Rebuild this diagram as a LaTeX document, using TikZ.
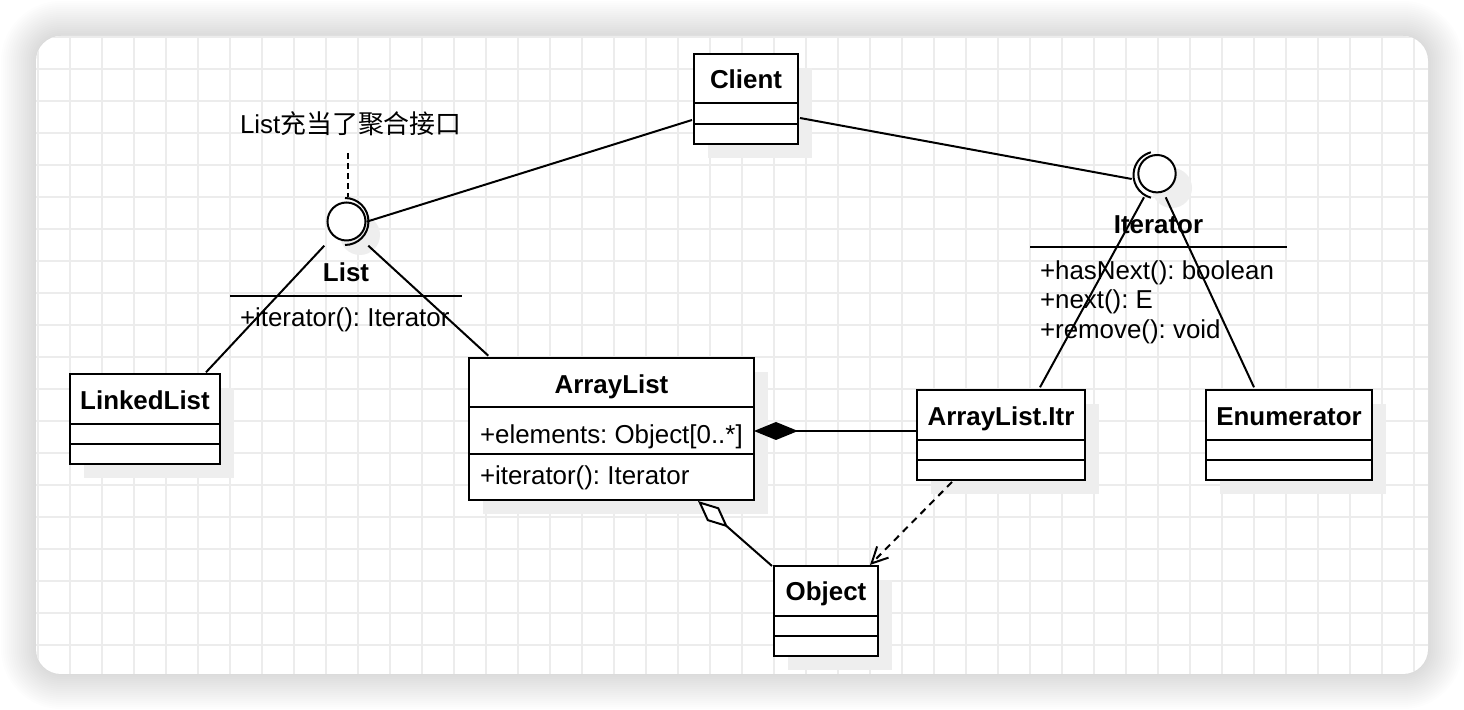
\documentclass[tikz,border=0pt]{standalone}
\usepackage{fontspec}
\setmainfont{Liberation Sans}
\newfontfamily\cjk{Noto Sans CJK SC}
\usetikzlibrary{arrows.meta,fit}
\definecolor{gridc}{RGB}{236,236,236}
\definecolor{shadc}{RGB}{238,238,238}
\frenchspacing
\newcommand\ubox[5]{%
  \fill[shadc] (#2+14,#3+14) rectangle (#4+14,#5+14);
  \node[box, fit={(#2,#3) (#4,#5)}] (#1) {};}
\begin{document}
\begin{tikzpicture}[x=0.5pt,y=-0.5pt, line width=1pt,
  every node/.style={font=\fontsize{12.95}{15.5}\selectfont\frenchspacing, inner sep=0pt, outer sep=0pt},
  box/.style={draw, fill=white, inner sep=0pt, outer sep=0pt, line width=1pt},
  lbl/.style={anchor=base, yshift=-0.75pt, font=\fontsize{12.95}{15.5}\selectfont\bfseries},
  txt/.style={anchor=base west, yshift=-0.75pt},
  conn/.style={line width=1pt},
  ifc/.style={circle, draw, fill=white, line width=1pt, inner sep=0pt, outer sep=0pt},
  dep/.style={conn, dash pattern=on 3.5pt off 2.8pt, -{Straight Barb[length=8pt,width=8pt]}},
  comp/.style={conn, -{Diamond[length=22pt,width=9pt]}},
  aggr/.style={conn, -{Diamond[open,fill=white,length=20pt,width=9pt]}},
  notelink/.style={conn, dash pattern=on 3pt off 2pt}]
\useasboundingbox (0,0) rectangle (1464,710);
\fill[white] (0,0) rectangle (1464,710);
% card shadow
\foreach \r in {1,3,...,35} {
  \pgfmathsetmacro\rc{(25+\r)*0.5}
  \fill[black, opacity=0.007, rounded corners=\rc pt] (36-\r,36-\r) rectangle (1428+\r,674+\r);
}
\fill[white, rounded corners=12.5pt] (36,36) rectangle (1428,674);
\begin{scope}
  \clip[rounded corners=12.5pt] (36,36) rectangle (1428,674);
  \foreach \x in {38,70,...,1426} \draw[gridc, line width=0.75pt] (\x,36) -- (\x,674);
  \foreach \y in {37,69,...,673} \draw[gridc, line width=0.75pt] (36,\y) -- (1428,\y);
\end{scope}

% ---- Client
\ubox{client}{694}{54}{798}{144}
\draw (694,103) -- (798,103);
\draw (694,124) -- (798,124);
\node[lbl] (clientT) at (746,87) {Client};

% ---- LinkedList
\ubox{linked}{70}{374}{220}{464}
\draw (70,424) -- (220,424);
\draw (70,444) -- (220,444);
\node[lbl] (linkedT) at (145,408) {LinkedList};

% ---- ArrayList
\ubox{alist}{469}{358}{754}{500}
\draw (469,407.5) -- (754,407.5);
\draw (469,454) -- (754,454);
\node[lbl] (alistT) at (611.5,392) {ArrayList};
\node[txt] (alistA) at (480,442) {+elements: Object[0..*]};
\node[txt] (alistM) at (480,483.5) {+iterator(): Iterator};

% ---- ArrayList.Itr
\ubox{itr}{917}{390}{1085}{480}
\draw (917,440) -- (1085,440);
\draw (917,460) -- (1085,460);
\node[lbl] (itrT) at (1001,424) {ArrayList.Itr};

% ---- Enumerator
\ubox{enum}{1206}{390}{1372}{480}
\draw (1206,440) -- (1372,440);
\draw (1206,460) -- (1372,460);
\node[lbl] (enumT) at (1289,424) {Enumerator};

% ---- Object
\ubox{obj}{774}{566}{878}{656}
\draw (774,616) -- (878,616);
\draw (774,636) -- (878,636);
\node[lbl] (objT) at (826,599) {Object};

% ---- List interface
\fill[shadc] (360,235) circle (20);
\node[ifc, minimum size=19pt] (listI) at (346.5,221.5) {};
\draw ([shift={(-90:23.5)}]345,221.5) arc[start angle=-90, end angle=90, radius=23.5];
\node[lbl] (listT) at (346,280) {List};
\draw (230,296) -- (462,296);
\node[txt] (listM) at (240,325) {+iterator(): Iterator};

% ---- Iterator interface
\fill[shadc] (1172,188) circle (20);
\node[ifc, minimum size=18.7pt] (iterI) at (1157,173.7) {};
\draw ([shift={(105:23.5)}]1157,175) arc[start angle=105, end angle=255, radius=23.5];
\node[lbl] (iterT) at (1158.5,232) {Iterator};
\draw (1030,247.5) -- (1286.5,247.5);
\node[txt] (iterM1) at (1040,278) {+hasNext(): boolean};
\node[txt] (iterM2) at (1040,307.5) {+next(): E};
\node[txt] (iterM3) at (1040,337) {+remove(): void};

% ---- note
\node[txt] (note) at (240,132) {List{\cjk 充当了聚合接口}};

% ---- connector end points
\coordinate (noteS) at (348,153);
\coordinate (listN) at (348,197);
\coordinate (listE) at (366.7,221.7);
\coordinate (clientW) at (692,120);
\coordinate (clientE) at (800,118);
\coordinate (iterW) at (1131.7,179);
\coordinate (listSW) at (324.3,245.7);
\coordinate (linkedN) at (206,372.3);
\coordinate (listSE) at (368.3,245.7);
\coordinate (alistN) at (488.3,355.7);
\coordinate (iterSW) at (1144,197.3);
\coordinate (itrN) at (1040,387.3);
\coordinate (iterSE) at (1165.7,197.3);
\coordinate (enumN) at (1254,387.3);
\coordinate (itrW) at (916,431);
\coordinate (alistE) at (754,431);
\coordinate (objNW) at (772,566);
\coordinate (alistS) at (698,501);
\coordinate (itrS) at (952,482);
\coordinate (objN) at (870,565);

% ---- connectors
\draw[notelink] (noteS) -- (listN);
\draw[conn] (listE) -- (clientW);
\draw[conn] (clientE) -- (iterW);
\draw[conn] (listSW) -- (linkedN);
\draw[conn] (listSE) -- (alistN);
\draw[conn] (iterSW) -- (itrN);
\draw[conn] (iterSE) -- (enumN);
\draw[comp] (itrW) -- (alistE);
\draw[aggr] (objNW) -- (alistS);
\draw[dep] (itrS) -- (objN);
\end{tikzpicture}
\end{document}
